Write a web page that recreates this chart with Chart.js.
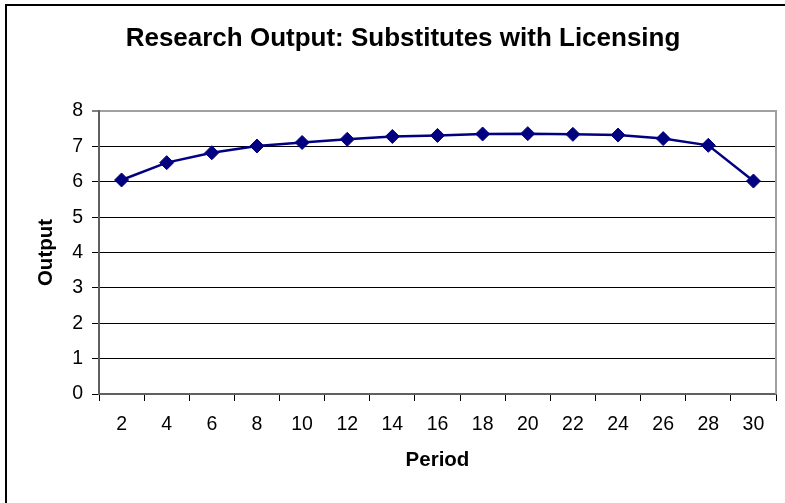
<!DOCTYPE html>
<html>
<head>
<meta charset="utf-8">
<title>Research Output: Substitutes with Licensing</title>
<script src="https://cdn.jsdelivr.net/npm/chart.js@4.4.1/dist/chart.umd.min.js"></script>
<style>
  html, body { margin: 0; padding: 0; background: #ffffff; }
  canvas { display: block; }
</style>
</head>
<body>
<canvas id="chart" width="785" height="503"></canvas>
<script>
// Periods on the horizontal axis
const periods = ['2', '4', '6', '8', '10', '12', '14', '16', '18', '20', '22', '24', '26', '28', '30'];
// Research output per period
const output = [6.05, 6.54, 6.82, 7.01, 7.11, 7.2, 7.28, 7.31, 7.35, 7.36, 7.34, 7.32, 7.22, 7.03, 6.02];
// Vertical axis range
const yTicks = [0, 1, 2, 3, 4, 5, 6, 7, 8];
const chartTitle = 'Research Output: Substitutes with Licensing';

const FONT = '"Liberation Sans", Arial, Helvetica, sans-serif';

// Chart title, gray frame on the right side of the plot and the outer border lines
const framePlugin = {
  id: 'frame',
  beforeDatasetsDraw(chart) {
    const { ctx, chartArea: a } = chart;
    ctx.save();
    ctx.strokeStyle = '#a0a0a0';
    ctx.lineWidth = 2;
    ctx.beginPath();
    ctx.moveTo(a.right, a.top - 1);
    ctx.lineTo(a.right, a.bottom);
    ctx.stroke();
    ctx.restore();
  },
  afterDraw(chart) {
    const { ctx } = chart;
    ctx.save();
    ctx.fillStyle = '#000000';
    ctx.font = 'bold 26px ' + FONT;
    ctx.textAlign = 'center';
    ctx.textBaseline = 'alphabetic';
    ctx.fillText(chartTitle, 403, 46);

    ctx.strokeStyle = '#000000';
    ctx.lineWidth = 2;
    ctx.beginPath();
    ctx.moveTo(6, 503);
    ctx.lineTo(6, 5);
    ctx.lineTo(785, 5);
    ctx.stroke();
    ctx.restore();
  }
};

new Chart(document.getElementById('chart'), {
  type: 'line',
  data: {
    labels: periods,
    datasets: [{
      data: output,
      borderColor: '#000080',
      backgroundColor: '#000080',
      borderWidth: 2.5,
      pointStyle: 'rectRot',
      pointRadius: 7,
      pointBorderWidth: 1,
      pointBackgroundColor: '#000080',
      pointBorderColor: '#000080',
      tension: 0,
      fill: false
    }]
  },
  options: {
    responsive: false,
    animation: false,
    devicePixelRatio: 1,
    layout: { padding: { left: 0, right: 9, top: 111, bottom: 0 } },
    plugins: {
      legend: { display: false },
      tooltip: { enabled: false },
      title: { display: false }
    },
    scales: {
      x: {
        type: 'category',
        offset: true,
        afterFit(scale) { scale.height = 109; },
        grid: {
          offset: true,
          drawOnChartArea: false,
          drawTicks: true,
          tickLength: 7,
          tickColor: '#000000',
          tickWidth: 1
        },
        border: { display: true, color: '#606060', width: 2 },
        ticks: {
          color: '#000000',
          padding: 12,
          maxRotation: 0,
          autoSkip: false,
          font: { family: FONT, size: 19.5 }
        },
        title: {
          display: true,
          text: 'Period',
          color: '#000000',
          font: { family: FONT, size: 20.5, weight: 'bold', lineHeight: 1.2 },
          padding: { top: 0, bottom: 30 }
        }
      },
      y: {
        min: yTicks[0],
        max: yTicks[yTicks.length - 1],
        afterFit(scale) { scale.width = 99; },
        afterBuildTicks(scale) { scale.ticks = yTicks.map(v => ({ value: v })); },
        grid: {
          color: ctx => (ctx.tick && ctx.tick.value === 8 ? '#a0a0a0' : '#000000'),
          lineWidth: ctx => (ctx.tick && ctx.tick.value === 8 ? 2 : 1),
          tickColor: '#000000',
          tickWidth: 1,
          tickLength: 7,
          drawTicks: true
        },
        border: { display: true, color: '#606060', width: 2 },
        ticks: {
          color: '#000000',
          padding: 9,
          font: { family: FONT, size: 19.5 }
        },
        title: {
          display: true,
          text: 'Output',
          color: '#000000',
          font: { family: FONT, size: 20.5, weight: 'bold', lineHeight: 1.2 },
          padding: { top: 34, bottom: 0 }
        }
      }
    }
  },
  plugins: [framePlugin]
});
</script>
</body>
</html>
